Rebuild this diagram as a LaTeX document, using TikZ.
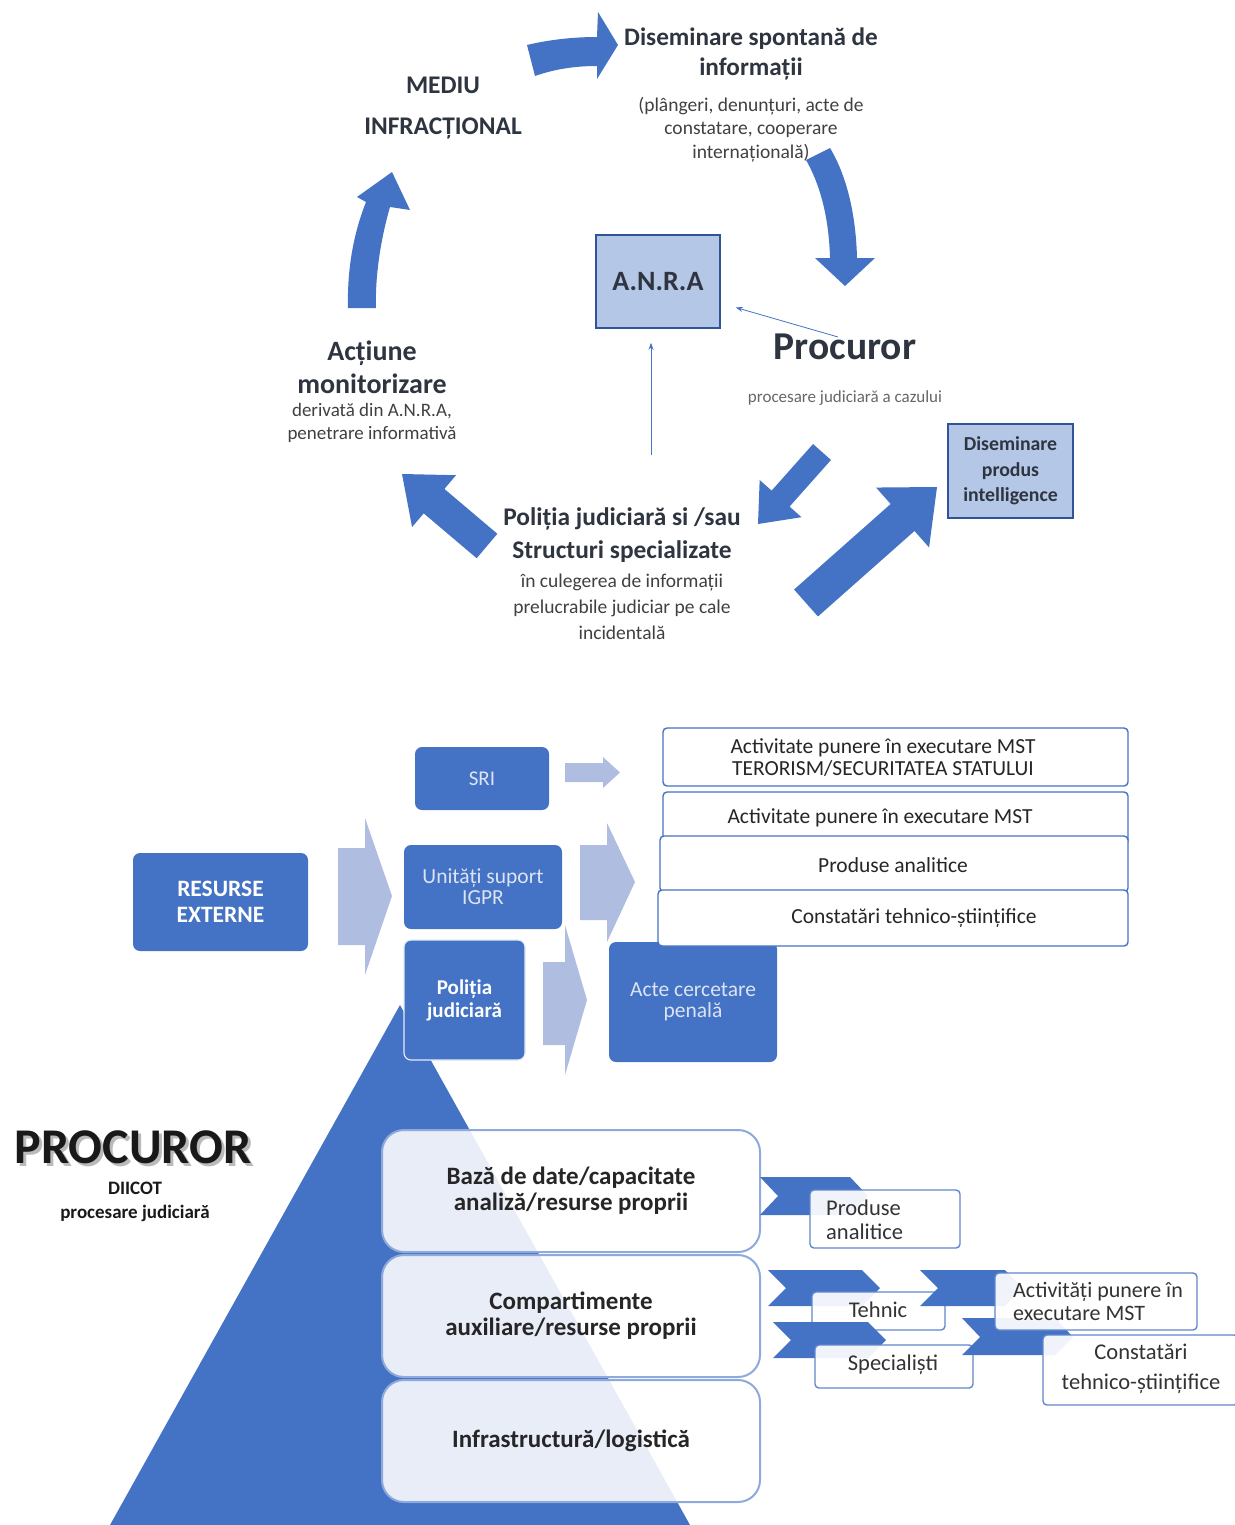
\documentclass[tikz,border=0pt]{standalone}
\usepackage{fontspec}
\setmainfont{Carlito}
\usetikzlibrary{calc,arrows.meta}
\definecolor{mblue}{HTML}{4472C4}
\definecolor{lblue}{HTML}{B4C7E7}
\definecolor{dblue}{HTML}{2F5597}
\definecolor{larrow}{HTML}{AFBEE0}
\definecolor{headc}{HTML}{2E3540}
\definecolor{subc}{HTML}{404040}
\definecolor{lighttxt}{HTML}{DCE4F3}
\definecolor{pyb}{HTML}{8EA9DB}
\newcommand\fs[2]{\fontsize{#1}{#2}\selectfont}
\newcommand\blkarr[5]{%
  \coordinate (bah) at ($(#2)!#5!(#1)$);
  \fill[mblue] ($(#1)!#3!90:(#2)$) -- ($(bah)!#3!90:(#2)$) -- ($(bah)!#4!90:(#2)$) -- (#2)
    -- ($(bah)!#4!-90:(#2)$) -- ($(bah)!#3!-90:(#2)$) -- ($(#1)!#3!-90:(#2)$) -- cycle;}
\tikzset{
  hd/.style={inner sep=0pt, align=center, text=headc},
  sub/.style={inner sep=0pt, align=center, text=subc},
  lbox/.style={draw=dblue, line width=1.6pt, fill=lblue, inner sep=0pt, align=center, text=headc},
  bbox/.style={fill=mblue, rounded corners=7pt, inner sep=0pt, align=center},
  sbox/.style={draw=mblue, line width=1.4pt, fill=white, rounded corners=4pt, inner sep=0pt},
  stxt/.style={inner sep=0pt, align=center, text=black!85, font=\fs{21.5}{22}},
  pbox/.style={draw=pyb, line width=2pt, fill=white, fill opacity=0.88, text opacity=1, rounded corners=22pt, inner sep=0pt, align=center, minimum width=378pt, minimum height=122pt, font=\bfseries\fs{25}{26}, text=black!85},
  rbox/.style={draw=mblue!85, line width=1.4pt, fill=white, fill opacity=0.92, text opacity=1, rounded corners=4pt, inner sep=0pt, text=black!80},
  rtxt/.style={inner sep=0pt, text=black!80, font=\fs{22.5}{24}},
  thinarr/.style={draw=mblue, line width=0.8pt, -{Stealth[length=7pt,width=5pt]}},
}
\begin{document}
\begin{tikzpicture}[x=1pt,y=-1pt]
\useasboundingbox (0,0) rectangle (1234,1525);

% ---------- upper cycle ----------
\node[hd, font=\bfseries\fs{25.4}{41}] (mediu) at (443,108.5) {MEDIU\\INFRACȚIONAL};
\node[hd, font=\bfseries\fs{25.2}{30}] (dis) at (751,53.5) {Diseminare spontană de\\informații};
\node[sub, font=\fs{19.5}{23.5}] (dissub) at (751,129.5) {(plângeri, denunțuri, acte de\\constatare, cooperare\\internațională)};
\node[lbox, minimum width=124pt, minimum height=93pt, font=\bfseries\fs{28}{30}] (anra) at (658,281.5) {A.N.R.A};
\node[hd, font=\bfseries\fs{39.5}{40}] (proc) at (845,347) {Procuror};
\node[sub, font=\fs{17}{18}, text=black!60] (procsub) at (845,398) {procesare judiciară a cazului};
\node[lbox, minimum width=125pt, minimum height=94pt, font=\bfseries\fs{19.8}{25.5}] (dpi) at (1010.5,471) {Diseminare\\produs\\intelligence};
\node[hd, font=\bfseries\fs{28}{33}] (act) at (372,367) {Acțiune\\monitorizare};
\node[sub, font=\fs{19}{23}] (actsub) at (372,423) {derivată din A.N.R.A,\\penetrare informativă};
\node[hd, font=\bfseries\fs{25.4}{33}] (pol) at (622,535.5) {Poliția judiciară si /sau\\Structuri specializate};
\node[sub, font=\fs{19.5}{26}] (polsub) at (622,607) {în culegerea de informații\\prelucrabile judiciar pe cale\\incidentală};

% curved arrows
\fill[mblue] (535,76) .. controls (555,69) and (575,66) .. (597,66) -- (597,79) -- (618,45) -- (598,12) -- (597,37) .. controls (572,37) and (548,40) .. (527,45) -- cycle;
\fill[mblue] (806,160) .. controls (822,188) and (829,222) .. (830,258) -- (815,258) -- (845,286) -- (875,258) -- (857,258) .. controls (856,218) and (848,178) .. (830,148) -- cycle;
\fill[mblue] (348,308) .. controls (347,268) and (354,232) .. (366,202) -- (357,197) -- (392,172) -- (410,210) -- (390,207) .. controls (381,238) and (375,275) .. (376,308) -- cycle;

% straight block arrows
\coordinate (dT) at (487,546); \coordinate (dH) at (402,474);
\blkarr{dT}{dH}{16pt}{34pt}{42pt}
\coordinate (eT) at (822,452); \coordinate (eH) at (758,524);
\blkarr{eT}{eH}{12pt}{28pt}{34pt}
\coordinate (fT) at (806,603); \coordinate (fH) at (937,487);
\blkarr{fT}{fH}{18pt}{40pt}{46pt}

% thin arrows
\coordinate (pa) at (838,337);
\draw[thinarr] (pa) -- ($(anra.east)+(15,26)$);
\coordinate (vt) at (651,455);
\draw[thinarr] (vt) -- ($(anra.south)+(-7,14)$);

% ---------- lower section ----------
% pyramid
\fill[mblue] (400,1005) -- (690,1525) -- (110,1525) -- cycle;

\node[bbox, minimum width=175pt, minimum height=98pt, text=white, font=\bfseries\fs{23.5}{26}] (res) at (220.5,902) {RESURSE\\EXTERNE};
\node[bbox, minimum width=134pt, minimum height=63pt, text=lighttxt, font=\fs{21}{21}] (sri) at (482,778.5) {SRI};
\node[bbox, minimum width=158pt, minimum height=84pt, text=lighttxt, font=\fs{21.5}{21}] (igpr) at (483,887) {Unități suport\\IGPR};
\node[bbox, draw=white!85!mblue, line width=1.2pt, minimum width=121pt, minimum height=120pt, text=white, font=\bfseries\fs{21}{23}] (pj) at (464.5,1000) {Poliția\\judiciară};
\node[bbox, minimum width=168pt, minimum height=120pt, text=lighttxt, font=\fs{21.5}{21}] (acp) at (693,1002) {Acte cercetare\\penală};

% light arrows
\fill[larrow] (338,848) -- (365,848) -- (365,818) -- (392,896) -- (365,975) -- (365,945) -- (338,945) -- cycle;
\fill[larrow] (565,763) -- (603,763) -- (603,757) -- (620,772.5) -- (603,788) -- (603,782) -- (565,782) -- cycle;
\fill[larrow] (580,845) -- (607,845) -- (607,823) -- (635,882) -- (607,942) -- (607,920) -- (580,920) -- cycle;
\fill[larrow] (543,962) -- (565,962) -- (565,925) -- (587,1000) -- (565,1075) -- (565,1045) -- (543,1045) -- cycle;

% right stack
\node[sbox, minimum width=465pt, minimum height=58pt] (s1) at (895.5,757) {};
\node[stxt] at (883,758) {Activitate punere în executare MST\\TERORISM/SECURITATEA STATULUI};
\node[sbox, minimum width=465pt, minimum height=53pt] (s2) at (895.5,818.5) {};
\node[stxt] at (880,818) {Activitate punere în executare MST};
\node[sbox, minimum width=468pt, minimum height=56pt] (s3) at (894,864) {};
\node[stxt] at (893,865) {Produse analitice};
\node[sbox, minimum width=470pt, minimum height=56pt] (s4) at (893,918) {};
\node[stxt] at (914,918) {Constatări tehnico-științifice};

% procuror label
\node[inner sep=0pt, text=black!45, opacity=0.6, font=\bfseries\fs{50}{52}] at (136,1150) {PROCUROR};
\node[inner sep=0pt, text=black!90, font=\bfseries\fs{50}{52}] (pr) at (133,1147) {PROCUROR};
\node[inner sep=0pt, align=center, text=black!90, font=\bfseries\fs{19}{24}] (prsub) at (135,1202) {DIICOT\\procesare judiciară};

% pyramid boxes
\node[pbox] (b1) at (571,1191) {Bază de date/capacitate\\analiză/resurse proprii};
\node[pbox] (b2) at (571,1316) {Compartimente\\auxiliare/resurse proprii};
\node[pbox] (b3) at (571,1441) {Infrastructură/logistică};

% chevrons and small boxes
\fill[mblue] (760,1177) -- (850,1177) -- (868,1196) -- (850,1215) -- (760,1215) -- (778,1196) -- cycle;
\node[rbox, minimum width=150pt, minimum height=58pt] (pa1) at (885,1219) {};
\node[rtxt, align=left, anchor=west] at (826,1220) {Produse\\analitice};

\fill[mblue] (768,1270) -- (862,1270) -- (880,1288) -- (862,1306) -- (768,1306) -- (786,1288) -- cycle;
\node[rbox, minimum width=133pt, minimum height=38pt] (teh) at (878.5,1311) {};
\node[rtxt] at (878,1310) {Tehnic};

\fill[mblue] (773,1322) -- (868,1322) -- (886,1340) -- (868,1358) -- (773,1358) -- (791,1340) -- cycle;
\node[rbox, minimum width=158pt, minimum height=43pt] (spe) at (894,1366.5) {};
\node[rtxt] at (893,1365) {Specialiști};

\fill[mblue] (920,1270) -- (1005,1270) -- (1022,1288) -- (1005,1306) -- (920,1306) -- (938,1288) -- cycle;
\fill[mblue] (962,1318) -- (1055,1318) -- (1073,1337) -- (1055,1355) -- (962,1355) -- (980,1337) -- cycle;
\node[rbox, minimum width=202pt, minimum height=57pt] (atv) at (1096,1301.5) {};
\node[rtxt, align=left, anchor=west, font=\fs{22}{23}] at (1013,1301.5) {Activități punere în\\executare MST};
\node[rbox, minimum width=195pt, minimum height=70pt] (cts) at (1140.5,1370) {};
\node[rtxt, align=center, font=\fs{22.5}{30}] at (1141,1369) {Constatări\\tehnico-științifice};
\end{tikzpicture}
\end{document}
